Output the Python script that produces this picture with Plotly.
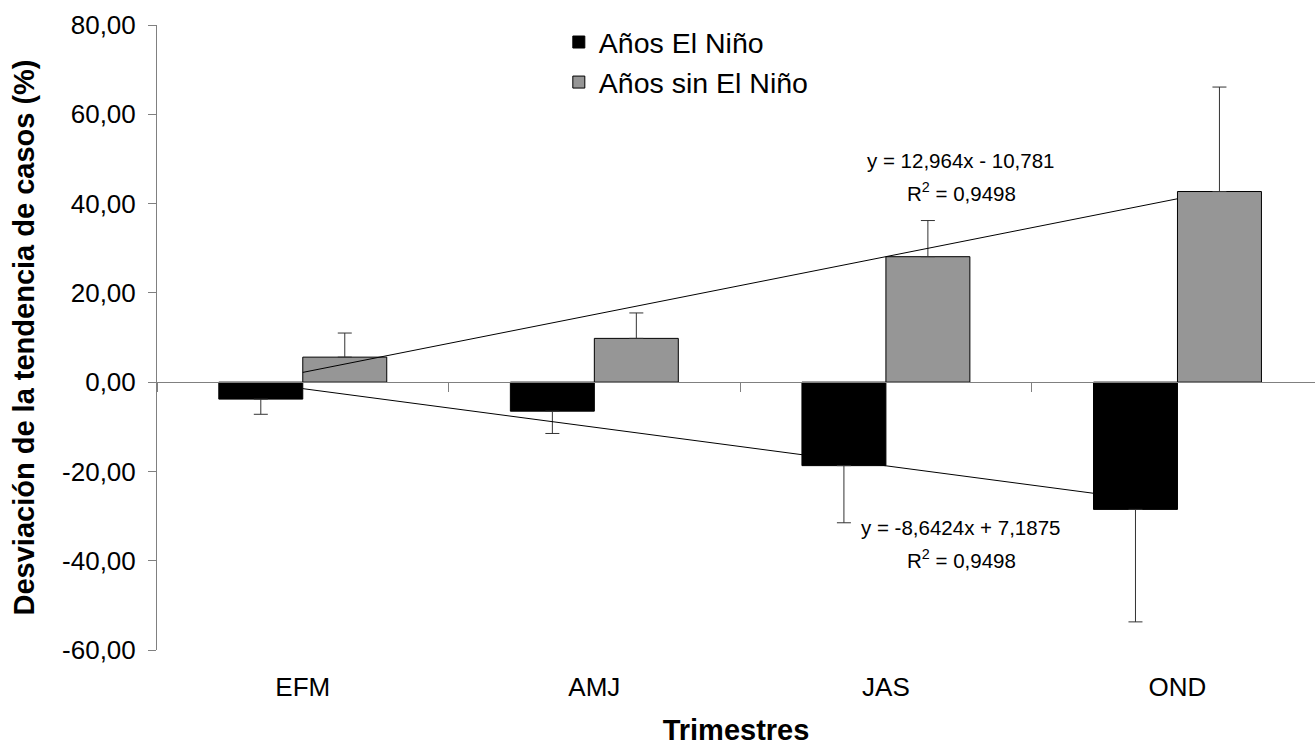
import plotly.graph_objects as go

categories = ["EFM", "AMJ", "JAS", "OND"]
nino_values = [-3.8, -6.5, -18.7, -28.5]
nino_err = [3.4, 5.0, 12.8, 25.2]
sin_nino_values = [5.6, 9.8, 28.1, 42.7]
sin_nino_err = [5.4, 5.7, 8.1, 23.4]

# Trend line coefficients (slope, intercept) as printed on the chart
trend_sin = (12.964, -10.781)
trend_nino = (-8.6424, 7.1875)
trend_x = [1, 4]

y_ticks = [-60, -40, -20, 0, 20, 40, 60, 80]
y_ticktext = [f"{v:.2f}".replace(".", ",") for v in y_ticks]

FONT = "Arial, Liberation Sans, sans-serif"

fig = go.Figure()

fig.add_trace(go.Bar(
    x=categories, y=nino_values, name="Años El Niño",
    marker=dict(color="#000000", line=dict(color="#000000", width=1)),
    error_y=dict(type="data", symmetric=False, array=[0] * 4, arrayminus=nino_err,
                 color="#333333", thickness=1, width=7),
))
fig.add_trace(go.Bar(
    x=categories, y=sin_nino_values, name="Años sin El Niño",
    marker=dict(color="#969696", line=dict(color="#000000", width=1)),
    error_y=dict(type="data", symmetric=False, array=sin_nino_err, arrayminus=[0] * 4,
                 color="#333333", thickness=1, width=7),
))

# trend lines
for coef in (trend_sin, trend_nino):
    fig.add_trace(go.Scatter(
        x=[categories[i - 1] for i in trend_x],
        y=[coef[0] * i + coef[1] for i in trend_x],
        mode="lines", line=dict(color="#000000", width=1),
        showlegend=False, hoverinfo="skip",
    ))

# helper trace for the category axis drawn at y = 0
fig.add_trace(go.Scatter(x=categories, y=[None] * 4, xaxis="x2",
                         showlegend=False, hoverinfo="skip"))

ymin, ymax = -60, 80
xrange = [-0.5, 3.4717]

fig.update_layout(
    width=1315, height=746,
    margin=dict(l=157, r=0, t=25, b=96),
    paper_bgcolor="white", plot_bgcolor="white",
    barmode="group", bargap=0.424, bargroupgap=0,
    font=dict(family=FONT, size=26, color="#000000"),
    showlegend=True,
    legend=dict(x=0.347, xanchor="left", y=1.0128, yanchor="top",
                font=dict(size=28.5, family=FONT), bgcolor="rgba(0,0,0,0)",
                tracegroupgap=0),
    xaxis=dict(type="category", categoryorder="array", categoryarray=categories,
               range=xrange, showline=False, ticks="", showgrid=False,
               zeroline=False, ticklabelstandoff=19,
               tickfont=dict(size=26, family=FONT),
               title=dict(text="<b>Trimestres</b>", standoff=23,
                          font=dict(size=29, family=FONT))),
    xaxis2=dict(type="category", categoryorder="array", categoryarray=categories,
                overlaying="x", anchor="free", position=(0 - ymin) / (ymax - ymin),
                range=xrange, showline=True, linecolor="#808080", linewidth=1,
                ticks="outside", tickson="boundaries", ticklen=9, tickcolor="#808080",
                showticklabels=False, showgrid=False, zeroline=False),
    yaxis=dict(range=[ymin, ymax], tickvals=y_ticks, ticktext=y_ticktext,
               showline=True, linecolor="#808080", linewidth=1,
               ticks="outside", ticklen=8, tickcolor="#808080",
               showgrid=False, zeroline=False, ticklabelstandoff=7,
               tickfont=dict(size=26, family=FONT),
               title=dict(text="<b>Desviación de la tendencia de casos (%)</b>",
                          standoff=18, font=dict(size=29, family=FONT))),
)

# trend-line equations
eq_font = dict(size=20.5, family=FONT, color="#000000")
fig.add_annotation(x=2.255, y=(382 - 160) / 4.4625, xref="x", yref="y",
                   text="y = 12,964x - 10,781", showarrow=False, font=eq_font)
fig.add_annotation(x=2.26, y=(382 - 192) / 4.4625, xref="x", yref="y",
                   text="R<sup>2</sup> = 0,9498", showarrow=False, font=eq_font)
fig.add_annotation(x=2.255, y=(382 - 527) / 4.4625, xref="x", yref="y",
                   text="y = -8,6424x + 7,1875", showarrow=False, font=eq_font)
fig.add_annotation(x=2.26, y=(382 - 559) / 4.4625, xref="x", yref="y",
                   text="R<sup>2</sup> = 0,9498", showarrow=False, font=eq_font)

fig.write_html("out.html", config={"displayModeBar": False},
               post_script="document.body.style.margin='0';")
